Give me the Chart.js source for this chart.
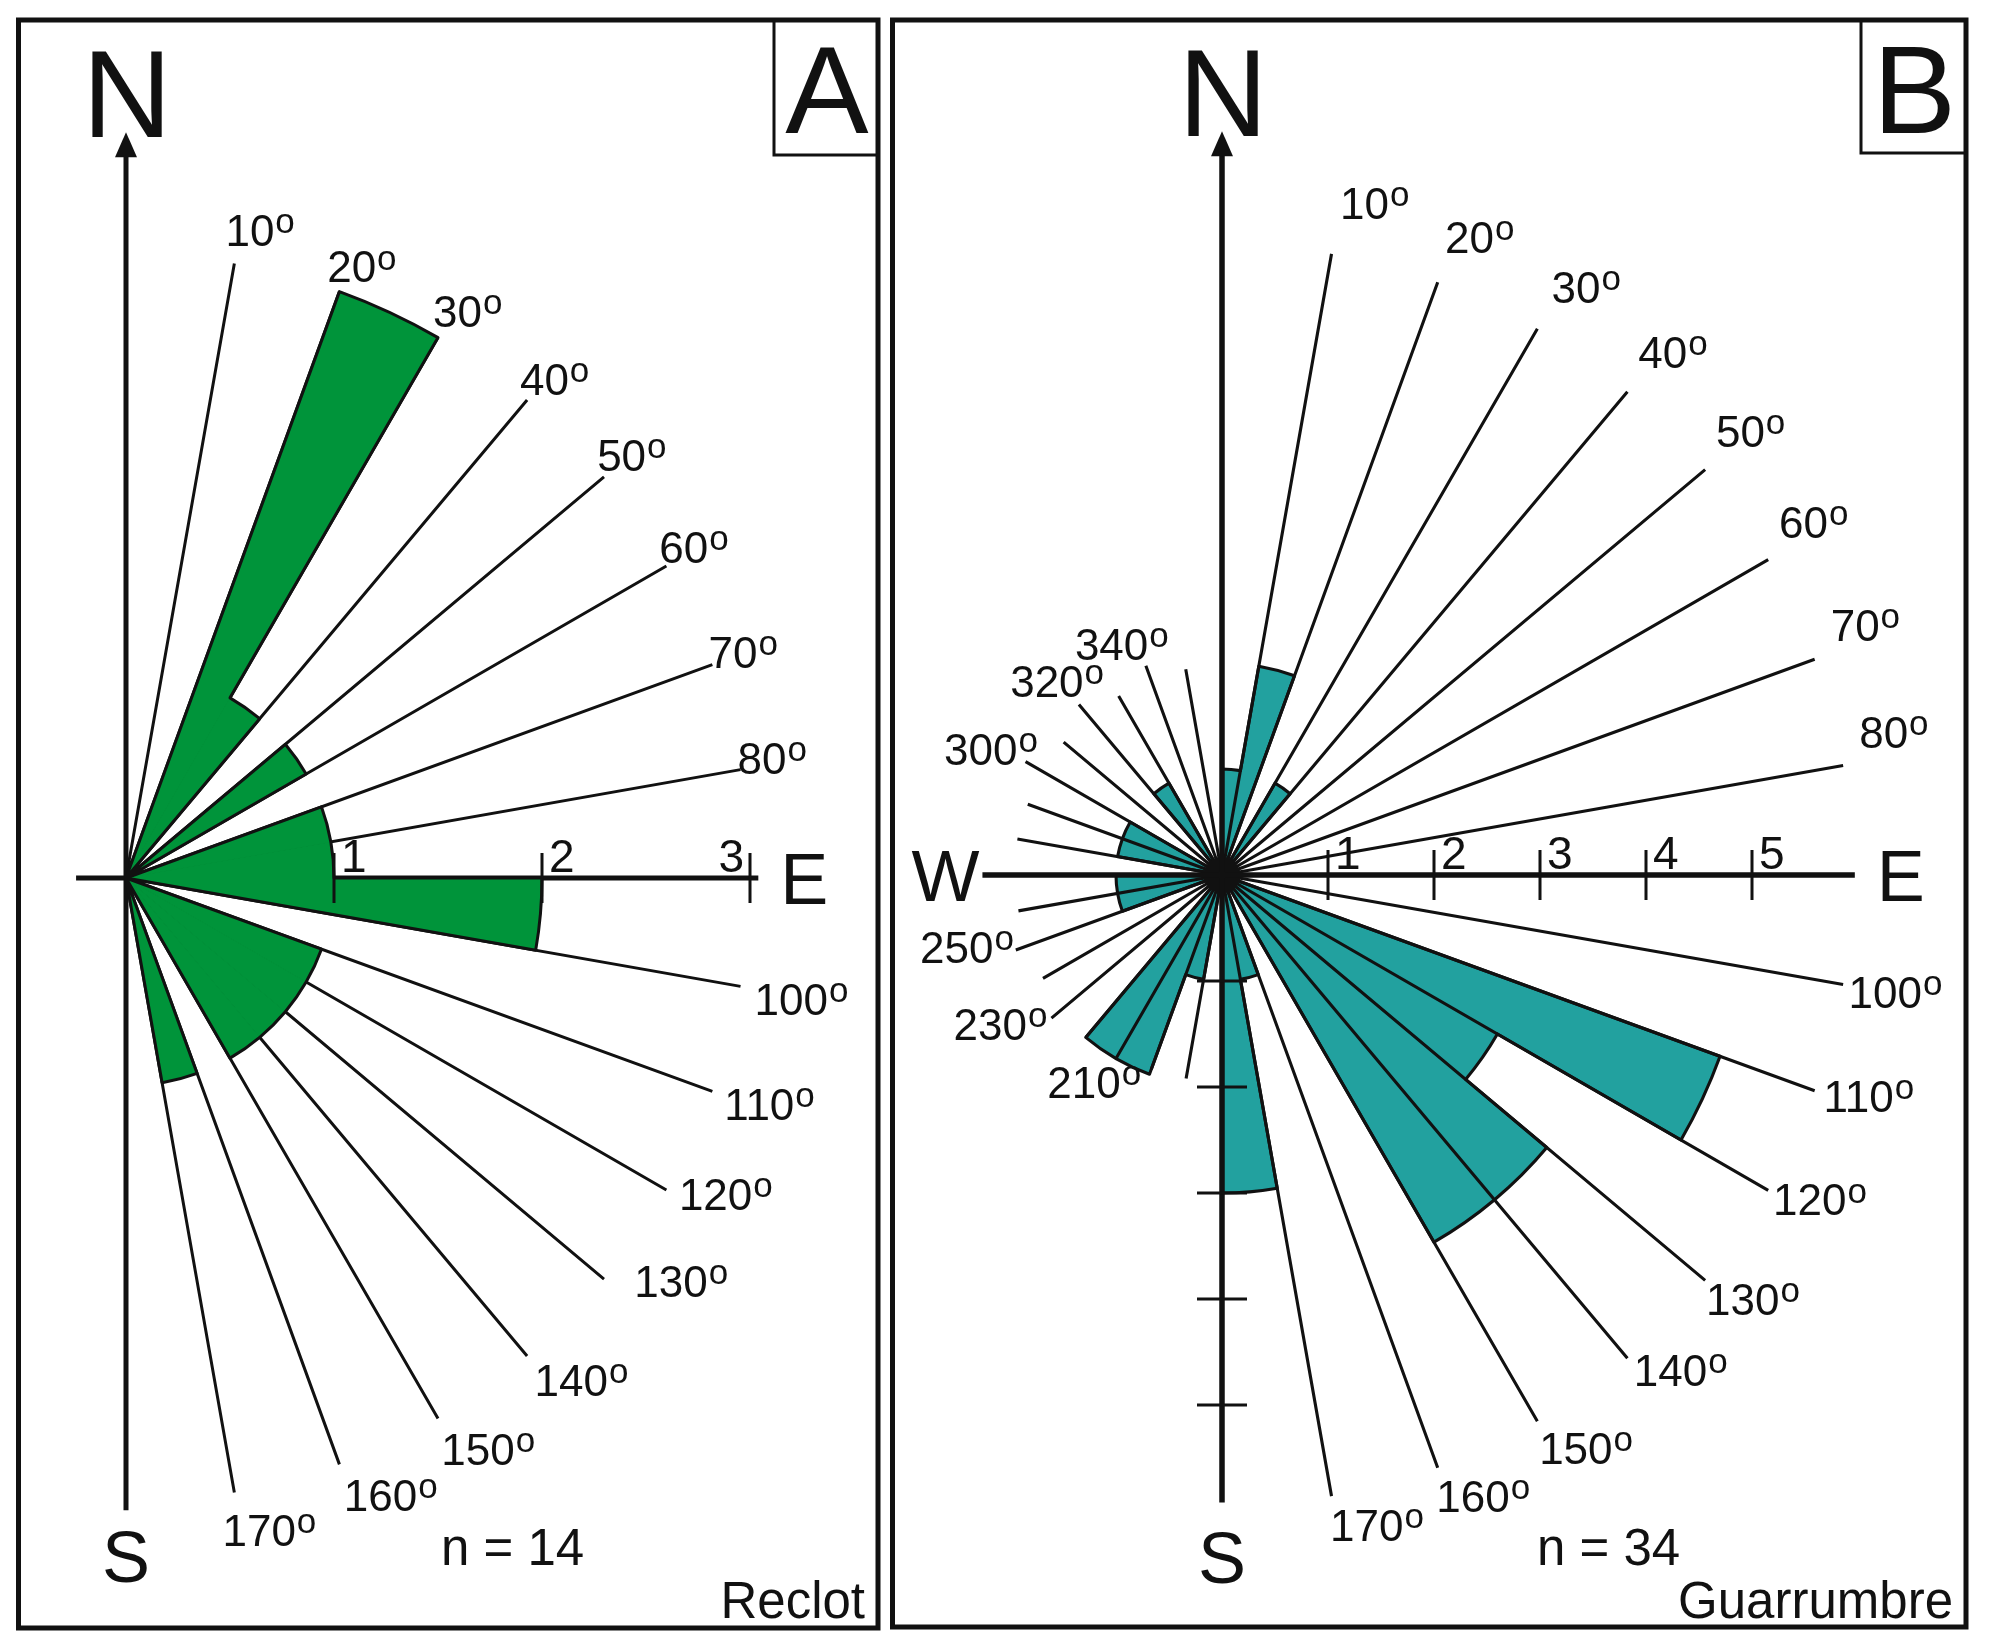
<!DOCTYPE html>
<html>
<head>
<meta charset="utf-8">
<title>Rose diagrams - Reclot / Guarrumbre</title>
<script src="https://cdn.jsdelivr.net/npm/chart.js"></script>
<style>
  html, body { margin: 0; background: #fff; }
  #wrap { position: relative; width: 1989px; height: 1650px; }
  #wrap canvas { position: absolute; left: 0; top: 0; }
</style>
</head>
<body>
<div id="wrap">
  <canvas id="roseA" width="1989" height="1650"></canvas>
  <canvas id="roseB" width="1989" height="1650"></canvas>
</div>
<script>
const FONT = '"Liberation Sans", Arial, sans-serif';
const INK = '#111';

// 10 degree bins, clockwise from north
const bins = Array.from({ length: 36 }, (_, i) => i * 10 + '-' + (i * 10 + 10));

// counts per bin
const reclotCounts = [0, 0, 3, 1, 0, 1, 0, 1, 1,
                      2, 0, 1, 1, 1, 1, 0, 1, 0,
                      0, 0, 0, 0, 0, 0, 0, 0, 0,
                      0, 0, 0, 0, 0, 0, 0, 0, 0];
const guarrumbreCounts = [1, 2, 0, 1, 0, 0, 0, 0, 0,
                          0, 0, 5, 3, 4, 4, 0, 1, 3,
                          0, 1, 2, 2, 0, 0, 0, 1, 1,
                          0, 1, 1, 0, 0, 1, 0, 0, 0];

// reference rays: azimuth and length (in counts)
const raysA = [10, 20, 30, 40, 50, 60, 70, 80, 100, 110, 120, 130, 140, 150, 160, 170];
const rayLenA = [3, 3, 3, 3, 3, 3, 3, 3, 3, 3, 3, 3, 3, 3, 3, 3];
const raysB = [10, 20, 30, 40, 50, 60, 70, 80, 100, 110, 120, 130, 140, 150, 160, 170,
               190, 200, 210, 220, 230, 240, 250, 260, 280, 290, 300, 310, 320, 330, 340, 350];
const rayLenB = [5.95, 5.95, 5.95, 5.95, 5.95, 5.95, 5.95, 5.95, 5.95, 5.95, 5.95, 5.95, 5.95, 5.95, 5.95, 5.95,
                 1.95, 1.95, 2.0, 2.0, 2.1, 1.95, 2.07, 1.95, 1.96, 1.95, 2.14, 1.95, 2.1, 1.95, 2.1, 1.97];

// degree labels and where they sit (azimuth, distance in counts)
const labelsA = [10, 20, 30, 40, 50, 60, 70, 80, 100, 110, 120, 130, 140, 150, 160, 170];
const labelSpotA = [[11.7, 3.18], [21.1, 3.15], [31.1, 3.18], [40.7, 3.16], [50.1, 3.17], [59.8, 3.16],
                    [69.9, 3.16], [79.5, 3.16], [100.2, 3.30], [109.4, 3.28], [117.8, 3.26], [126.0, 3.30],
                    [137.8, 3.26], [147.6, 3.25], [156.8, 3.23], [167.6, 3.21]];
const labelsB = [10, 20, 30, 40, 50, 60, 70, 80, 100, 110, 120, 130, 140, 150, 160, 170,
                 340, 320, 300, 250, 230, 210];
const labelSpotB = [[12.8, 6.50], [22.0, 6.49], [31.8, 6.52], [40.8, 6.51], [50.0, 6.51], [59.2, 6.50],
                    [68.8, 6.51], [78.0, 6.48], [99.9, 6.45], [108.9, 6.45], [118.5, 6.42], [128.6, 6.41],
                    [137.2, 6.37], [147.6, 6.41], [157.2, 6.36], [166.6, 6.31],
                    [336.5, 2.37], [319.6, 2.40], [298.5, 2.48], [254.2, 2.50], [236.0, 2.52], [211.6, 2.30]];

const ticksA = [1, 2, 3];
const ticksB = [1, 2, 3, 4, 5];

// r scale only spans 0..SCALE_MAX so the chart area fits left of panel A;
// the arcs simply run past it (polarArea does not clip)
const SCALE_MAX = 0.5;

const panelA = {
  counts: reclotCounts, fill: '#00943A', center: [126, 878], unit: 208,
  rays: raysA, rayLen: rayLenA, labels: labelsA, spots: labelSpotA,
  linesOnTop: false, rayWidth: 3, axisWidth: 5, outlineWidth: 3,
  axes: { north: 3.47, east: 3.04, south: 3.04, west: 0.24 },
  eastTicks: ticksA, tickAlign: ['left', 'left', 'right'], southTicks: [],
  westLetter: false, sGap: 72,
  frame: [18.5, 20, 878, 1628], tagLeft: 774, tagBottom: 155, tag: 'A',
  n: 'n = 14', nAt: [441, 1565], site: 'Reclot', siteAt: [865, 1618]
};

const panelB = {
  counts: guarrumbreCounts, fill: '#22A19F', center: [1222, 875], unit: 106,
  rays: raysB, rayLen: rayLenB, labels: labelsB, spots: labelSpotB,
  linesOnTop: true, rayWidth: 3.1, axisWidth: 5.5, outlineWidth: 3.1,
  axes: { north: 6.79, east: 5.97, south: 5.92, west: 2.26 },
  eastTicks: ticksB, tickAlign: ['left', 'left', 'left', 'left', 'left'], southTicks: ticksB,
  westLetter: true, sGap: 80,
  frame: [892.5, 20, 1966, 1627], tagLeft: 1861, tagBottom: 153, tag: 'B',
  n: 'n = 34', nAt: [1537, 1565], site: 'Guarrumbre', siteAt: [1953, 1618]
};

// azimuth (deg, clockwise from N) + value -> canvas point, through the r scale
function pt(scale, az, v) {
  const r = scale.getDistanceFromCenterForValue(v);
  const a = az * Math.PI / 180;
  return { x: scale.xCenter + r * Math.sin(a), y: scale.yCenter - r * Math.cos(a) };
}

function drawRays(chart, p) {
  const s = chart.scales.r, ctx = chart.ctx, c = pt(s, 0, 0);
  ctx.save();
  ctx.strokeStyle = INK;
  ctx.fillStyle = INK;
  ctx.lineWidth = p.rayWidth;
  ctx.beginPath();
  p.rays.forEach((az, i) => {
    const e = pt(s, az, p.rayLen[i]);
    ctx.moveTo(c.x, c.y);
    ctx.lineTo(e.x, e.y);
  });
  ctx.stroke();

  ctx.lineWidth = p.axisWidth;
  ctx.beginPath();
  [[0, p.axes.north], [90, p.axes.east], [180, p.axes.south], [270, p.axes.west]].forEach(([az, len]) => {
    const e = pt(s, az, len);
    ctx.moveTo(c.x, c.y);
    ctx.lineTo(e.x, e.y);
  });
  ctx.stroke();

  // north arrow
  const top = pt(s, 0, p.axes.north);
  ctx.beginPath();
  ctx.moveTo(top.x - 11, top.y + 1);
  ctx.lineTo(top.x + 11, top.y + 1);
  ctx.lineTo(top.x, top.y - 24);
  ctx.closePath();
  ctx.fill();
  ctx.restore();
}

// outline of the petals, merged where neighbours touch
function drawOutline(chart, p) {
  const s = chart.scales.r, ctx = chart.ctx, v = p.counts, n = v.length, step = 360 / n;
  ctx.save();
  ctx.strokeStyle = INK;
  ctx.lineWidth = p.outlineWidth;
  ctx.lineCap = 'round';
  ctx.beginPath();
  for (let i = 0; i < n; i++) {
    if (v[i] > 0) {
      const st = pt(s, i * step, v[i]);
      ctx.moveTo(st.x, st.y);
      ctx.arc(s.xCenter, s.yCenter, s.getDistanceFromCenterForValue(v[i]),
        (i * step - 90) * Math.PI / 180, ((i + 1) * step - 90) * Math.PI / 180);
    }
    const prev = v[(i + n - 1) % n];
    if (prev !== v[i]) {
      const a = pt(s, i * step, Math.min(prev, v[i]));
      const b = pt(s, i * step, Math.max(prev, v[i]));
      ctx.moveTo(a.x, a.y);
      ctx.lineTo(b.x, b.y);
    }
  }
  ctx.stroke();
  ctx.restore();
}

function drawTicks(chart, p) {
  const s = chart.scales.r, ctx = chart.ctx;
  ctx.save();
  ctx.strokeStyle = INK;
  ctx.fillStyle = INK;
  ctx.lineWidth = 3;
  ctx.beginPath();
  p.eastTicks.forEach(v => {
    const q = pt(s, 90, v);
    ctx.moveTo(q.x, q.y - 25);
    ctx.lineTo(q.x, q.y + 25);
  });
  p.southTicks.forEach(v => {
    const q = pt(s, 180, v);
    ctx.moveTo(q.x - 25, q.y);
    ctx.lineTo(q.x + 25, q.y);
  });
  ctx.stroke();

  ctx.font = '46px ' + FONT;
  ctx.textBaseline = 'alphabetic';
  p.eastTicks.forEach((v, i) => {
    const q = pt(s, 90, v);
    const right = p.tickAlign[i] === 'right';
    ctx.textAlign = right ? 'right' : 'left';
    ctx.fillText(String(v), q.x + (right ? -6 : 7), q.y - 6);
  });
  ctx.restore();
}

// "10" followed by a raised small o
function degText(ctx, num, x, y) {
  const size = 44, small = 35;
  ctx.textAlign = 'left';
  ctx.textBaseline = 'alphabetic';
  ctx.font = size + 'px ' + FONT;
  const w1 = ctx.measureText(num).width;
  ctx.font = small + 'px ' + FONT;
  const w2 = ctx.measureText('o').width;
  const x0 = x - (w1 + w2 + 1) / 2;
  const base = y + size * 0.358;
  ctx.font = size + 'px ' + FONT;
  ctx.fillText(num, x0, base);
  ctx.font = small + 'px ' + FONT;
  ctx.fillText('o', x0 + w1 + 1, base - size * 0.716 + small * 0.53);
}

function drawText(chart, p) {
  const s = chart.scales.r, ctx = chart.ctx;
  ctx.save();
  ctx.fillStyle = INK;
  ctx.strokeStyle = INK;

  p.labels.forEach((lab, i) => {
    const q = pt(s, p.spots[i][0], p.spots[i][1]);
    degText(ctx, String(lab), q.x, q.y);
  });

  // compass letters
  const top = pt(s, 0, p.axes.north);
  ctx.textBaseline = 'alphabetic';
  ctx.textAlign = 'center';
  ctx.font = '124px ' + FONT;
  ctx.fillText('N', top.x + 1, top.y - 24 + 5);

  const bottom = pt(s, 180, p.axes.south);
  ctx.font = '72px ' + FONT;
  ctx.fillText('S', bottom.x, bottom.y + p.sGap);

  const east = pt(s, 90, p.axes.east);
  ctx.textAlign = 'left';
  ctx.fillText('E', east.x + 22, east.y + 26);

  if (p.westLetter) {
    const west = pt(s, 270, p.axes.west);
    ctx.textAlign = 'right';
    ctx.fillText('W', west.x - 3, west.y + 26);
  }

  // panel frame and letter box
  const [x0, y0, x1, y1] = p.frame;
  ctx.lineWidth = 5;
  ctx.strokeRect(x0, y0, x1 - x0, y1 - y0);
  ctx.lineWidth = 3;
  ctx.beginPath();
  ctx.moveTo(p.tagLeft, y0);
  ctx.lineTo(p.tagLeft, p.tagBottom);
  ctx.lineTo(x1, p.tagBottom);
  ctx.stroke();
  ctx.textAlign = 'center';
  ctx.font = '125px ' + FONT;
  ctx.fillText(p.tag, (p.tagLeft + x1) / 2 + 1, 133);

  ctx.font = '51px ' + FONT;
  ctx.textAlign = 'left';
  ctx.fillText(p.n, p.nAt[0], p.nAt[1]);
  ctx.textAlign = 'right';
  ctx.fillText(p.site, p.siteAt[0], p.siteAt[1]);
  ctx.restore();
}

function rosePlugin(p) {
  return {
    id: 'rose',
    beforeDatasetsDraw(chart) {
      if (!p.linesOnTop) drawRays(chart, p);
    },
    afterDatasetsDraw(chart) {
      drawOutline(chart, p);
      if (p.linesOnTop) drawRays(chart, p);
      drawTicks(chart, p);
      drawText(chart, p);
    }
  };
}

function makeRose(id, p) {
  const canvas = document.getElementById(id);
  const W = canvas.width, H = canvas.height;
  const r0 = p.unit * SCALE_MAX;
  return new Chart(canvas, {
    type: 'polarArea',
    data: {
      labels: bins,
      datasets: [{
        data: p.counts,
        backgroundColor: p.fill,
        borderColor: p.fill,
        borderWidth: 1
      }]
    },
    options: {
      responsive: false,
      animation: false,
      events: [],
      layout: {
        padding: {
          left: p.center[0] - r0,
          top: p.center[1] - r0,
          right: W - p.center[0] - r0,
          bottom: H - p.center[1] - r0
        }
      },
      plugins: {
        legend: { display: false },
        tooltip: { enabled: false }
      },
      scales: {
        r: { display: false, min: 0, max: SCALE_MAX, startAngle: 0 }
      }
    },
    plugins: [rosePlugin(p)]
  });
}

makeRose('roseA', panelA);
makeRose('roseB', panelB);
</script>
</body>
</html>
